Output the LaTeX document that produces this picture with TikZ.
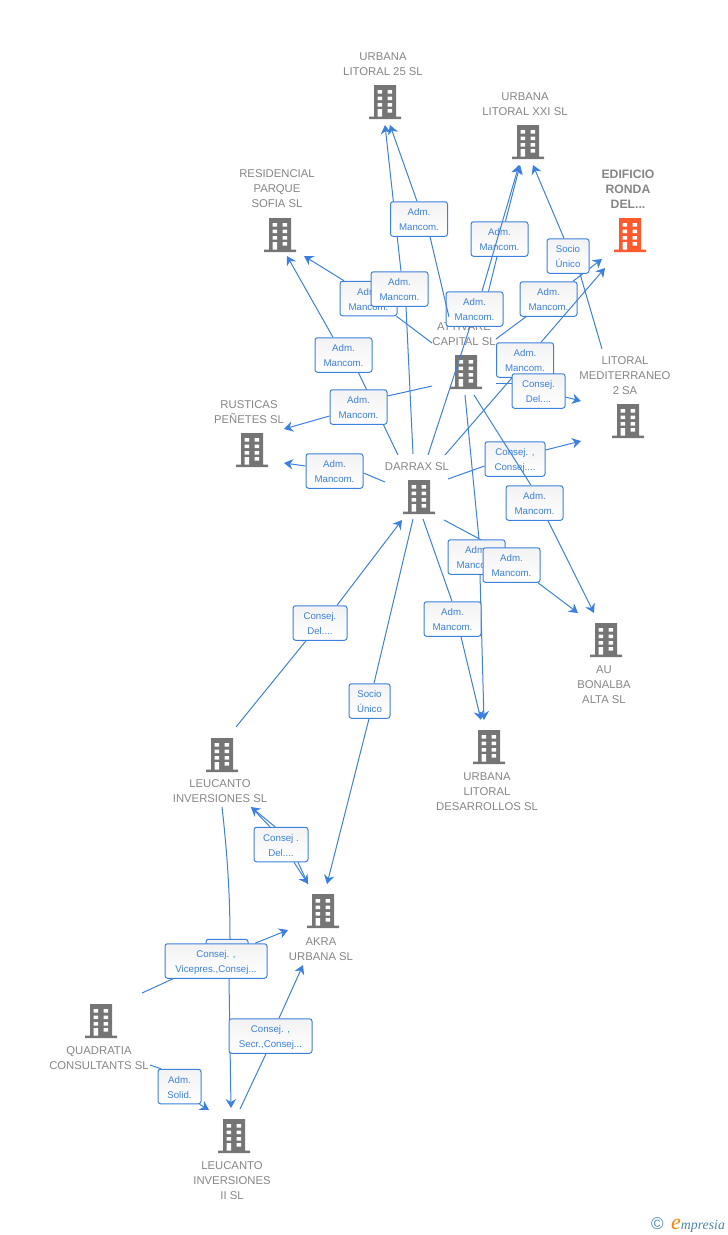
\documentclass[tikz,border=0pt]{standalone}
\usepackage{fontspec}
\setmainfont{Liberation Sans}
\newfontfamily\logofont{Liberation Serif}
\usetikzlibrary{arrows.meta,backgrounds}
\definecolor{azul}{HTML}{3C80DE}
\definecolor{gris}{HTML}{757575}
\definecolor{griso}{HTML}{858585}
\definecolor{naranja}{HTML}{FF5A2E}
\definecolor{marcaz}{HTML}{4A86A8}
\newcommand{\lin}{\rule{0pt}{9pt}}
\tikzset{
  edifn/.style={minimum width=32pt,minimum height=34pt,inner sep=0pt},
  edif/.pic={
    \path[pic actions] (-11,-17) rectangle (11,14.5) (-16,14.5) rectangle (16,17);
    \foreach \yy in {-12,-5.4,1.2}
      \fill[white] (-7.4,\yy) rectangle +(4.4,3.5) (2.6,\yy) rectangle +(4.4,3.5);
    \fill[white] (-7.4,7) rectangle (-3,14.5) (2.6,7) rectangle (7,10.6);
  },
  tit/.style={align=center,inner sep=0pt,text=griso,font=\fontsize{11.3}{15}\selectfont},
  lbl/.style={draw=azul,line width=1pt,rounded corners=2.5pt,top color=black!5,bottom color=white,
    minimum width=57pt,minimum height=34.5pt,inner sep=0pt,align=center,text=azul,
    font=\fontsize{9.7}{15}\selectfont},
  link/.style={draw=azul,line width=1pt},
  flecha/.style={link,-{Stealth[length=9pt,width=10.5pt,inset=3pt]}}
}
\begin{document}
\begin{tikzpicture}[x=1pt,y=-1pt] % red de empresas
\useasboundingbox (0,0) rectangle (728,1235);
\foreach \n/\x/\y in {urbana25/385/102,urbanaxxi/528/142,residencial/280/235,attivare/466/372,
    litoral/628/421,rusticas/252/450,darrax/419/497,bonalba/606/640,desarrollos/489/747,
    leucanto/222/755,akra/323/911,quadratia/101/1021,leucantodos/234/1136}{
  \node[edifn] (\n) at (\x,\y) {};
  \pic[fill=gris] at (\n) {edif};
}
\node[edifn] (edificio) at (630,235) {};
\pic[fill=naranja] at (edificio) {edif};
% nombres
\node[tit] (turbana25) at (383,64.5) {URBANA\\LITORAL 25 SL};
\node[tit] (turbanaxxi) at (525,104.5) {URBANA\\LITORAL XXI SL};
\node[tit,font=\fontsize{12.2}{15}\selectfont\bfseries] (tedificio) at (628,189) {EDIFICIO\\RONDA\\DEL...};
\node[tit] (tresidencial) at (277,189) {RESIDENCIAL\\PARQUE\\SOFIA SL};
\node[tit] (tattivare) at (464,334.5) {ATTIVARE\\CAPITAL SL};
\node[tit] (tlitoral) at (625,376) {LITORAL\\MEDITERRANEO\\2 SA};
\node[tit] (trusticas) at (249,412.5) {RUSTICAS\\PEÑETES SL};
\node[tit] (tdarrax) at (417,467) {DARRAX SL};
\node[tit] (tbonalba) at (604,685) {AU\\BONALBA\\ALTA SL};
\node[tit] (tdesarrollos) at (487,792) {URBANA\\LITORAL\\DESARROLLOS SL};
\node[tit] (tleucanto) at (220,791.5) {LEUCANTO\\INVERSIONES SL};
\node[tit] (takra) at (321,949.5) {AKRA\\URBANA SL};
\node[tit] (tquadratia) at (99,1058.5) {QUADRATIA\\CONSULTANTS SL};
\node[tit] (tleucantodos) at (232,1181) {LEUCANTO\\INVERSIONES\\II SL};
% cajas
\def\adm{\lin Adm.\\Mancom.}
\node[lbl] (lbla) at (419,219) {\adm};
\node[lbl] (lblc) at (368.5,298.5) {\adm};
\node[lbl] (lblb) at (399.5,289) {\adm};
\node[lbl] (lbld) at (343.5,355) {\adm};
\node[lbl] (lble) at (358.5,407) {\adm};
\node[lbl] (lblf) at (334.5,471) {\adm};
\node[lbl] (lblg) at (499.5,239) {\adm};
\node[lbl] (lblh) at (474.5,309) {\adm};
\node[lbl,minimum width=42pt] (lbli) at (568,256) {\lin Socio\\Único};
\node[lbl] (lblj) at (548.5,299) {\adm};
\node[lbl] (lblk) at (525,360) {\adm};
\node[lbl,minimum width=53pt] (lbll) at (538.5,391) {\lin Consej.\\Del....};
\node[lbl,minimum width=60pt] (lblm) at (515,459) {\lin Consej. ,\\Consej....};
\node[lbl] (lbln) at (534.5,503) {\adm};
\node[lbl] (lblo) at (476.5,557) {\adm};
\node[lbl] (lblp) at (511.5,565) {\adm};
\node[lbl] (lblq) at (452.5,619) {\adm};
\node[lbl,minimum width=54pt] (lblr) at (320,623) {\lin Consej.\\Del....};
\node[lbl,minimum width=41pt] (lbls) at (369.5,701) {\lin Socio\\Único};
\node[lbl,minimum width=54pt] (lblt) at (281,844.5) {\lin Consej .\\Del....};
\node[lbl,minimum width=42pt] (lblu) at (227,956.5) {};
\node[lbl,minimum width=102pt] (lblv) at (216,961) {\lin Consej. ,\\Vicepres.,Consej...};
\node[lbl,minimum width=83pt] (lblw) at (270.5,1036) {\lin Consej. ,\\Secr.,Consej...};
\node[lbl,minimum width=43pt] (lblx) at (179.5,1086.5) {\lin Adm.\\Solid.};
% extremos libres
\foreach \n/\x/\y in {pa/449/317,fa/390/125,pb/413/454,fb/385/125,pc/432/343,fc/304/256,
    pd/398/455,fd/287/256,pe/432/386,fe/284/429,pf/385/482,ff/284/463,pg/481/322,fg/520/165,
    ph/428/455,fh/519/165,pi/602/349,fi/533/165,pj/496/339,fj/602/259,pk/445/455,fk/605/268,
    pl/496/383,fl/581/401,pm/448/479,fm/581/441,pn/474/395,fn/594/613,po/465/395,fo/484/720,
    pp/444/520,fp/578/613,pq/423/519,fq/481/720,pr/236/727,fr/402/520,ps/413/519,fs/327/884,
    ft/251/807,gt/308/884,pu/222/807,fu/231/1108,pv/142/993,fv/288/930,pw/240/1109,fw/303/965,
    px/150/1065,fx/209/1110}
  \coordinate (\n) at (\x,\y);
\begin{scope}[on background layer]
\draw[flecha] ([xshift=-2pt]lbla.north) -- (fa);
\draw[link] (pb) -- ([xshift=6.5pt]lblb.south);
\draw[flecha] ([xshift=1.5pt]lblb.north) -- (fb);
\draw[link] (pc) -- ([xshift=28pt]lblc.south);
\draw[flecha] ([xshift=-24.5pt]lblc.north) -- (fc);
\draw[link] (pd) -- ([xshift=15pt]lbld.south);
\draw[flecha] ([xshift=-10.5pt]lbld.north) -- (fd);
\draw[link] (pe) -- ([yshift=11pt]lble.east);
\draw[flecha] ([yshift=-9pt]lble.west) -- (fe);
\draw[link] (pf) -- ([yshift=-2pt]lblf.east);
\draw[flecha] ([yshift=5pt]lblf.west) -- (ff);
\draw[link] (pg) -- ([xshift=-2.5pt]lblg.south);
\draw[flecha] ([xshift=6pt]lblg.north) -- (fg);
\draw[link] (pi) -- ([xshift=12pt]lbli.south);
\draw[flecha] ([xshift=-4pt]lbli.north) -- (fi);
\draw[link] (pj) -- ([xshift=-22.5pt]lblj.south);
\draw[flecha] ([xshift=24.5pt]lblj.north) -- (fj);
\draw[link] (pk) -- ([xshift=-13pt]lblk.south);
\draw[link] (pl) -- ([yshift=8pt]lbll.west);
\draw[flecha] ([yshift=-6pt]lbll.east) -- (fl);
\draw[link] (pm) -- ([yshift=-7pt]lblm.west);
\draw[flecha] ([yshift=9pt]lblm.east) -- (fm);
\draw[flecha] ([xshift=13.5pt]lbln.south) -- (fn);
\draw[link] (po) -- ([xshift=2.5pt]lblo.north);
\draw[flecha] ([xshift=3.5pt]lblo.south) -- (fo);
\draw[link] (pp) -- ([xshift=-16.5pt]lblp.north);
\draw[flecha] ([xshift=26.5pt]lblp.south) -- (fp);
\draw[link] (pq) -- ([xshift=-.5pt]lblq.north);
\draw[flecha] ([xshift=8.5pt]lblq.south) -- (fq);
\draw[link] (pr) -- ([xshift=-14pt]lblr.south);
\draw[flecha] ([xshift=17pt]lblr.north) -- (fr);
\draw[link] (ps) -- ([xshift=4.5pt]lbls.north);
\draw[flecha] ([xshift=-.5pt]lbls.south) -- (fs);
\draw[flecha] ([xshift=-6pt]lblt.north) -- (ft);
\draw[link] ([xshift=-11pt]lblt.north) -- (ft);
\draw[flecha] ([xshift=13pt]lblt.south) -- (gt);
\draw[link] ([xshift=17pt]lblt.south) -- (gt);
\draw[link] (pu) .. controls (228,860) and (230,900) .. ([xshift=3pt]lblu.north);
\draw[flecha] ([xshift=13pt]lblv.south) -- (fu);
\draw[link] (pv) -- ([xshift=-43pt]lblv.south);
\draw[flecha] ([xshift=39pt]lblv.north) -- (fv);
\draw[link] (pw) -- ([xshift=-4.5pt]lblw.south);
\draw[flecha] ([xshift=8.5pt]lblw.north) -- (fw);
\draw[link] (px) -- ([xshift=-18.5pt]lblx.north);
\draw[flecha] ([xshift=20pt]lblx.south) -- (fx);
\end{scope}
% por encima de las cajas
\draw[link] (ph) -- ([xshift=-4.5pt]lblh.south);
\draw[flecha] ([xshift=7.5pt]lblh.north) -- (fh);
\draw[link] (pa) -- ([xshift=11pt]lbla.south);
\draw[flecha] ([xshift=16pt]lblk.north) -- (fk);
\draw[link] (pn) -- ([xshift=-3.5pt]lbln.north);
% marca
\node[inner sep=0pt,text=marcaz,font=\fontsize{17}{17}\selectfont] (marcac) at (657.5,1224) {©};
\node[inner sep=0pt,anchor=base west,font=\logofont\itshape\fontsize{13.8}{14}\selectfont,text=marcaz] (marca) at (671,1229)
  {\textcolor{orange}{\fontsize{22}{22}\selectfont e}mpresia};
\end{tikzpicture}
\end{document}
